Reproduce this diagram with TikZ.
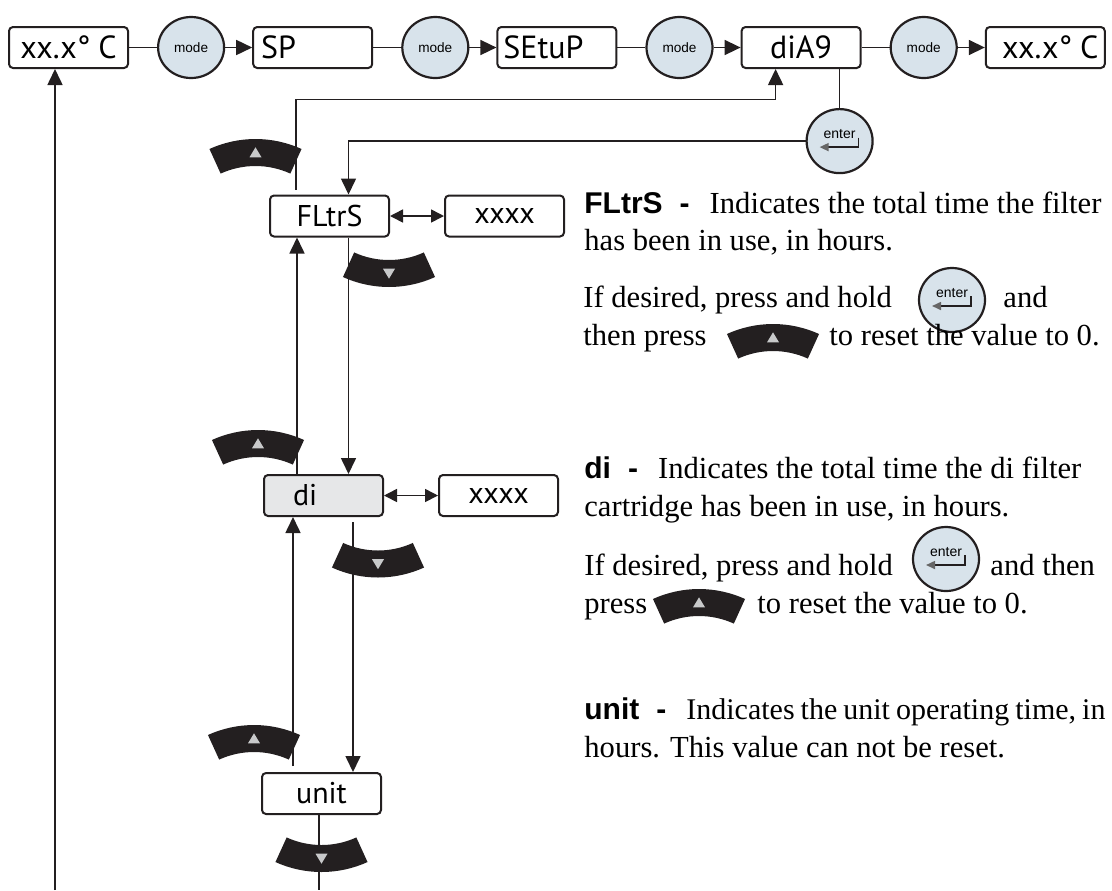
\documentclass[tikz,border=0pt]{standalone}
\usepackage{fontspec}
\setmainfont{Liberation Serif}
\newfontfamily\dispfont{PT Sans}
\newfontfamily\keyfont{Liberation Sans}
\usetikzlibrary{arrows.meta,positioning,shapes.geometric,calc}

\definecolor{linecol}{RGB}{35,31,32}
\definecolor{keyblue}{RGB}{216,227,235}
\definecolor{keygray}{RGB}{200,201,202}
\definecolor{digray}{RGB}{230,231,232}

\tikzset{
  upkey/.pic={
    \fill[linecol, shift={(0pt,-48.75pt)}] (65.5:55.5pt)
      arc[start angle=65.5, end angle=114.5, radius=55.5pt] -- (114.5:42pt)
      arc[start angle=114.5, end angle=65.5, radius=42pt] -- cycle;
    \fill[keygray] (-3pt,-2.4pt) -- (3pt,-2.4pt) -- (0pt,2.6pt) -- cycle;
  },
  downkey/.pic={
    \fill[linecol, shift={(0pt,48.75pt)}] (-65.5:55.5pt)
      arc[start angle=-65.5, end angle=-114.5, radius=55.5pt] -- (-114.5:42pt)
      arc[start angle=-114.5, end angle=-65.5, radius=42pt] -- cycle;
    \fill[keygray] (-3pt,2.4pt) -- (3pt,2.4pt) -- (0pt,-2.6pt) -- cycle;
  }
}
\newcommand\entersym[1]{%
  \node[font=\keyfont\fontsize{7}{7}\selectfont, inner sep=0pt] (#1-t)
    at ([yshift=3.5pt]#1.center) {enter};
  \draw[linecol, line width=0.8pt, -{Triangle[length=4.5pt,width=4pt,color=black!60]}]
    ([shift={(9.5pt,1.8pt)}]#1.center) -- ([shift={(9.5pt,-3pt)}]#1.center)
    -- ([shift={(-10pt,-3pt)}]#1.center);
}
\newcommand\hd[1]{{\keyfont\bfseries\fontsize{15}{15}\selectfont #1\hspace{8.5pt}-\hspace{10pt}}}

\begin{document}
\begin{tikzpicture}[
  x=0.5pt, y=-0.5pt,
  >={Triangle[length=8pt,width=7.5pt]},
  node distance=14pt,
  disp/.style={rectangle, rounded corners=2pt, draw=linecol, line width=1pt,
    fill=white, minimum width=59.5pt, minimum height=20.5pt, inner sep=0pt,
    font=\dispfont\fontsize{16}{16}\selectfont},
  displ/.style={disp, align=left, inner xsep=#1, text width=59.5pt-2*#1},
  colbox/.style={disp, font=\dispfont\fontsize{15}{15}\selectfont},
  mode/.style={ellipse, draw=linecol, line width=1.1pt, fill=keyblue,
    minimum width=33pt, minimum height=30.5pt, inner sep=0pt,
    font=\keyfont\fontsize{6.8}{6.8}\selectfont},
  enterkey/.style={mode, minimum width=33pt, minimum height=32pt},
  desc/.style={anchor=base west, inner sep=0pt, font=\fontsize{15.3}{18}\selectfont},
  conn/.style={draw=linecol, line width=0.8pt},
  arr/.style={conn, ->},
  dbl/.style={conn, <->, >={Triangle[length=6.5pt,width=6.5pt]}},
]
  \useasboundingbox (0,0) rectangle (1112,890);

  \node[disp] (t0) at (68.5,47.5) {xx.x°\hspace{4pt}C};
  \node[mode, right=14pt of t0] (m1) {mode};
  \node[displ=4pt, right=13.5pt of m1] (sp) {SP};
  \node[mode, right=14pt of sp] (m2) {mode};
  \node[displ=3pt, right=13.5pt of m2] (setup) {SEtuP};
  \node[mode, right=14pt of setup] (m3) {mode};
  \node[disp, right=13.5pt of m3] (dia) {diA9};
  \node[mode, right=14pt of dia] (m4) {mode};
  \node[disp, right=13.5pt of m4] (t1) {\hspace{5pt}xx.x°\hspace{4pt}C};
  \node[enterkey, below=19.5pt of dia, xshift=19.25pt] (enter) {};
  \entersym{enter}

  \node[colbox] (fl) at (329.5,216) {FLtrS};
  \node[colbox, right=27pt of fl] (flv) {xxxx};
  \node[displ=14.5pt, colbox, fill=digray] (di) at (323.5,495.5) {di};
  \node[colbox, right=27pt of di] (div) {xxxx};
  \node[colbox] (un) at (321.5,793.5) {unit};
  \coordinate (outL) at (55,890);
  \coordinate (outR) at (319,890);

  \draw[conn] (t0) -- (m1); \draw[arr] (m1) -- (sp);
  \draw[conn] (sp) -- (m2); \draw[arr] (m2) -- (setup);
  \draw[conn] (setup) -- (m3); \draw[arr] (m3) -- (dia);
  \draw[conn] (dia) -- (m4); \draw[arr] (m4) -- (t1);
  \draw[conn] (enter.north) -- (enter.north |- dia.south);
  \draw[arr, shorten <=2.5pt] ([xshift=-16.75pt]fl.north) -- ++(0,-95)
    -| ([xshift=-12.75pt]dia.south);
  \draw[arr] (enter.west) -| ([xshift=9.5pt]fl.north);
  \draw[dbl] (fl) -- (flv);
  \draw[dbl] (di) -- (div);
  \draw[arr] ([xshift=9.5pt]fl.south) coordinate (p1) -- (p1 |- di.north);
  \draw[arr] ([xshift=-13.25pt]di.north) coordinate (p2) -- (p2 |- fl.south);
  \draw[arr, shorten <=2.5pt] ([xshift=14.75pt]di.south) coordinate (p3) -- (p3 |- un.north);
  \draw[arr, shorten <=3pt] ([xshift=-14.25pt]un.north) coordinate (p4) -- (p4 |- di.south);
  \draw[conn] (un.south -| outR) -- (outR);
  \draw[arr] (outL) -- (outL |- t0.south);

  \pic at (255.5,152.5) {upkey};
  \pic at (389,273.5) {downkey};
  \pic at (258,443.5) {upkey};
  \pic at (378,564) {downkey};
  \pic at (254,738.5) {upkey};
  \pic at (321.5,858.5) {downkey};

  \node[desc] (fl1) at (584,213) {\hd{FLtrS}Indicates the total time the filter};
  \node[desc] (fl2) at (584,250) {has been in use, in hours.};
  \node[desc] (fl3) at (583,307) {If desired, press and hold};
  \node[enterkey] (ekA) at (952,300) {};
  \entersym{ekA}
  \node[desc] (fl3b) at (1003,307) {and};
  \node[desc] (fl4) at (583,345) {then press};
  \pic at (773,337.5) {upkey};
  \node[desc] (fl4b) at (829,345) {to reset the value to 0.};

  \node[desc] (di1) at (584,478) {\hd{di}Indicates the total time the di filter};
  \node[desc] (di2) at (584,516) {cartridge has been in use, in hours.};
  \node[desc] (di3) at (584,575) {If desired, press and hold};
  \node[enterkey] (ekB) at (946,559) {};
  \entersym{ekB}
  \node[desc] (di3b) at (990,575) {and then};
  \node[desc] (di4) at (584,613) {press};
  \pic at (699,602.5) {upkey};
  \node[desc] (di4b) at (757,613) {to reset the value to 0.};

  \node[desc, font=\fontsize{15}{18}\selectfont] (un1) at (584,719)
    {\hd{unit}\spaceskip=0.2em Indicates the unit operating time, in};
  \node[desc] (un2) at (584,757) {hours. This value can not be reset.};
\end{tikzpicture}
\end{document}
